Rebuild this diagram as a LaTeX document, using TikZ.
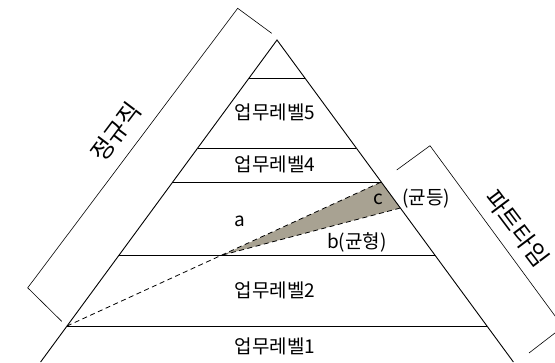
\documentclass[tikz,border=0pt]{standalone}
\usepackage{fontspec}
\setmainfont{Noto Sans CJK KR}
\begin{document}
\begin{tikzpicture}[x=1pt,y=-1pt,
  pyr/.style={line width=0.9pt},
  band/.style={line width=0.6pt},
  hline/.style={line width=0.8pt},
  dline/.style={dash pattern=on 5pt off 3.5pt, line width=0.8pt},
  lvl/.style={inner sep=0pt, font=\fontsize{19}{22}\selectfont},
  small/.style={inner sep=0pt, font=\fontsize{19}{22}\selectfont},
  side/.style={inner sep=0pt, font=\fontsize{24}{28}\selectfont}]
\useasboundingbox (0,0) rectangle (555,362);
% pyramid
\coordinate (apex) at (277,40);
\coordinate (lb) at (40.6,362);
\coordinate (rb) at (513.4,362);
\coordinate (L5) at (249.1,78);  \coordinate (R5) at (304.9,78);
\coordinate (L4) at (197.7,148); \coordinate (R4) at (356.3,148);
\coordinate (L3) at (172.7,182); \coordinate (R3) at (381.3,182);
\coordinate (L2) at (119.1,255); \coordinate (R2) at (434.9,255);
\coordinate (L1) at (67,326);    \coordinate (R1) at (487,326);
\coordinate (P) at (222.7,255);
\coordinate (Rg) at (400.4,208);
% gray wedge
\fill[fill={rgb,255:red,168;green,162;blue,146}] (P) -- (R3) -- (Rg) -- cycle;
\draw[pyr] (lb) -- (apex) -- (rb);
\draw[hline] (L5) -- (R5);
\draw[hline] (L4) -- (R4);
\draw[hline] (L3) -- (R3);
\draw[hline] (L2) -- (R2);
\draw[hline] (L1) -- (R1);
\draw[dline] (L1) -- (R3);
\draw[dline] (P) -- (Rg);
% left band
\coordinate (A) at (237.7,8.3);
\coordinate (B) at (271.7,33.3);
\coordinate (C) at (27.7,287.8);
\coordinate (D) at (61.7,321.3);
\draw[band] (B) -- (A) -- (C) -- (D);
% right band
\coordinate (E) at (396.7,170);
\coordinate (F) at (430,145.7);
\coordinate (G) at (563,326.8);
\coordinate (H) at (529,353);
\draw[band] (E) -- (F) -- (G) -- (H);
% labels
\node[lvl] (t5) at (275,112) {업무레벨5};
\node[lvl] (t4) at (275,164) {업무레벨4};
\node[lvl] (t2) at (275,290) {업무레벨2};
\node[lvl] (t1) at (275,346) {업무레벨1};
\node[small] (ta) at (240,221) {a};
\node[small] (tc) at (378,199) {c};
\node[small] (tcc) at (426,199) {(균등)};
\node[small] (tb) at (357,242) {b(균형)};
\node[side, rotate=53] (tj) at (116,132) {정규직};
\node[side, rotate=-53] (tp) at (517,228) {파트타임};
\end{tikzpicture}
\end{document}
